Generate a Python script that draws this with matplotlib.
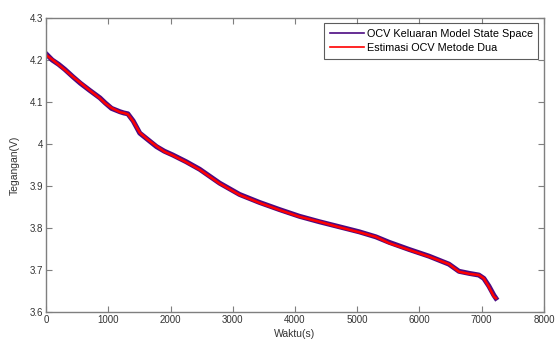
import numpy as np
import matplotlib.pyplot as plt

plt.rcParams['font.family'] = ['Liberation Sans', 'DejaVu Sans']

# waktu (detik) dan tegangan OCV
waktu = [0, 100, 200, 300, 433, 550, 700, 865, 950, 1052, 1186, 1250, 1314, 1400,
         1506, 1640, 1774, 1900, 2035, 2250, 2468, 2788, 3109, 3429, 3750, 4071,
         4391, 4712, 5032, 5300, 5513, 5833, 6154, 6474, 6635, 6800, 6955, 7035,
         7115, 7196, 7228]
ocv_model = [4.215, 4.200, 4.190, 4.178, 4.160, 4.145, 4.128, 4.110, 4.098, 4.085,
             4.077, 4.074, 4.072, 4.055, 4.026, 4.010, 3.994, 3.983, 3.974, 3.958,
             3.940, 3.907, 3.880, 3.861, 3.844, 3.828, 3.815, 3.803, 3.791, 3.779,
             3.766, 3.749, 3.733, 3.714, 3.697, 3.692, 3.688, 3.680, 3.662, 3.640,
             3.633]
ocv_estimasi = [4.212, 4.201, 4.189, 4.177, 4.160, 4.146, 4.128, 4.109, 4.097, 4.086,
                4.076, 4.074, 4.071, 4.054, 4.027, 4.010, 3.995, 3.982, 3.973, 3.957,
                3.939, 3.906, 3.879, 3.860, 3.843, 3.827, 3.815, 3.802, 3.790, 3.779,
                3.764, 3.748, 3.732, 3.714, 3.696, 3.691, 3.688, 3.680, 3.660, 3.637,
                3.633]

fig = plt.figure(figsize=(5.55, 3.41), dpi=100)
ax = fig.add_axes([0.083, 0.085, 0.897, 0.862])

ax.plot(waktu, ocv_model, color='#4b0a82', linewidth=3.6,
        label='OCV Keluaran Model State Space')
ax.plot(waktu, ocv_estimasi, color='#ff0000', linewidth=1.8,
        label='Estimasi OCV Metode Dua')

ax.set_xlim(0, 8000)
ax.set_ylim(3.6, 4.3)
ax.set_xticks(np.arange(0, 8001, 1000))
ax.set_yticks([3.6, 3.7, 3.8, 3.9, 4.0, 4.1, 4.2, 4.3])
ax.set_yticklabels(['3.6', '3.7', '3.8', '3.9', '4', '4.1', '4.2', '4.3'])
ax.tick_params(direction='in', length=4, width=0.8, top=True, right=True,
               labelsize=7, colors='#7f7f7f', labelcolor='#333333', pad=2)
for sp in ax.spines.values():
    sp.set_color('#7f7f7f')
    sp.set_linewidth(1.0)

ax.set_xlabel('Waktu(s)', fontsize=7.5, color='#333333', labelpad=3)
ax.set_ylabel('Tegangan(V)', fontsize=7.5, color='#333333', labelpad=7)

leg = ax.legend(loc='upper right', fontsize=7.8, frameon=True, fancybox=False,
                handlelength=3.2, handletextpad=0.25, borderpad=0.5,
                labelspacing=0.4, borderaxespad=0.5)
leg.get_frame().set_edgecolor('#333333')
leg.get_frame().set_linewidth(0.8)
for line in leg.get_lines():
    line.set_linewidth(1.2)

fig.savefig('out.png', dpi=100)
